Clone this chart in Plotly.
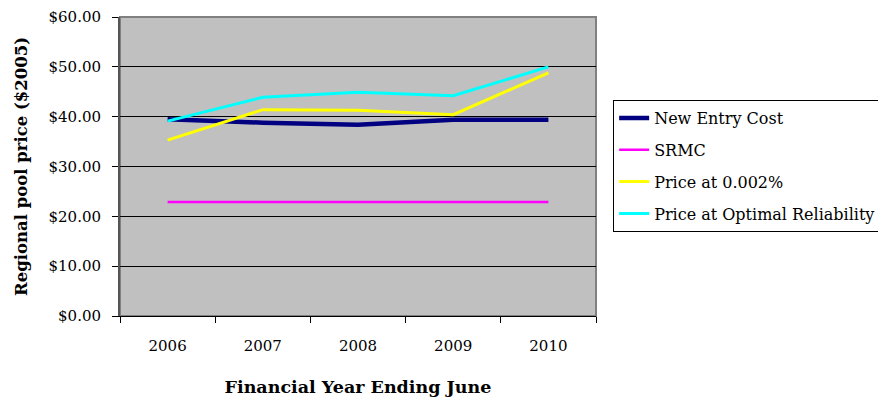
import plotly.graph_objects as go

years = ["2006", "2007", "2008", "2009", "2010"]
new_entry_cost = [39.5, 38.8, 38.4, 39.4, 39.4]
srmc = [22.9, 22.9, 22.9, 22.9, 22.9]
price_0002 = [35.3, 41.4, 41.3, 40.4, 48.8]
price_optimal = [39.1, 43.9, 44.9, 44.2, 50.0]

series = [
    ("New Entry Cost", new_entry_cost, "#000080", 4.5),
    ("SRMC", srmc, "#FF00FF", 2.5),
    ("Price at 0.002%", price_0002, "#FFFF00", 3),
    ("Price at Optimal Reliability", price_optimal, "#00FFFF", 3),
]

FONT = "DejaVu Serif"

fig = go.Figure()
for i, (name, vals, col, w) in enumerate(series):
    fig.add_trace(go.Scatter(x=years, y=vals, name=name, mode="lines",
                             legendgroup=str(i),
                             line=dict(color=col, width=w)))

# page body has an 8px margin, so offsets are shifted by that
fig.update_layout(
    width=886, height=401,
    margin=dict(l=112, r=298, t=9, b=93),
    paper_bgcolor="white",
    plot_bgcolor="#C0C0C0",
    font=dict(family=FONT, size=15, color="black"),
    showlegend=True,
    legend=dict(x=1.036, xanchor="left", y=0.722, yanchor="top",
                bgcolor="white", bordercolor="black", borderwidth=1,
                font=dict(family=FONT, size=16),
                traceorder="grouped", tracegroupgap=8),
)

fig.update_xaxes(
    type="category", tickson="boundaries", range=[-0.5, 4.5],
    ticks="outside", ticklen=6, tickcolor="black",
    showline=True, linecolor="black", linewidth=1, mirror=False,
    showgrid=False, ticklabelstandoff=16, automargin=False,
    title=dict(text="<b>Financial Year Ending June</b>", standoff=26,
               font=dict(family=FONT, size=17.5)),
)
fig.update_yaxes(
    range=[0, 60], dtick=10, tickformat="$.2f",
    ticks="outside", ticklen=6, tickcolor="black",
    showline=True, linecolor="#555555", linewidth=2,
    showgrid=True, gridcolor="black", gridwidth=1,
    zeroline=False, ticklabelstandoff=8, automargin=False,
    title=dict(text="<b>Regional pool price ($2005)</b>", standoff=17,
               font=dict(family=FONT, size=16.5)),
)

# Excel-style plot area frame
fig.add_shape(type="rect", xref="paper", yref="paper", x0=0, x1=1, y0=0, y1=1,
              line=dict(color="#808080", width=2), layer="below")

fig.write_html("out.html")
